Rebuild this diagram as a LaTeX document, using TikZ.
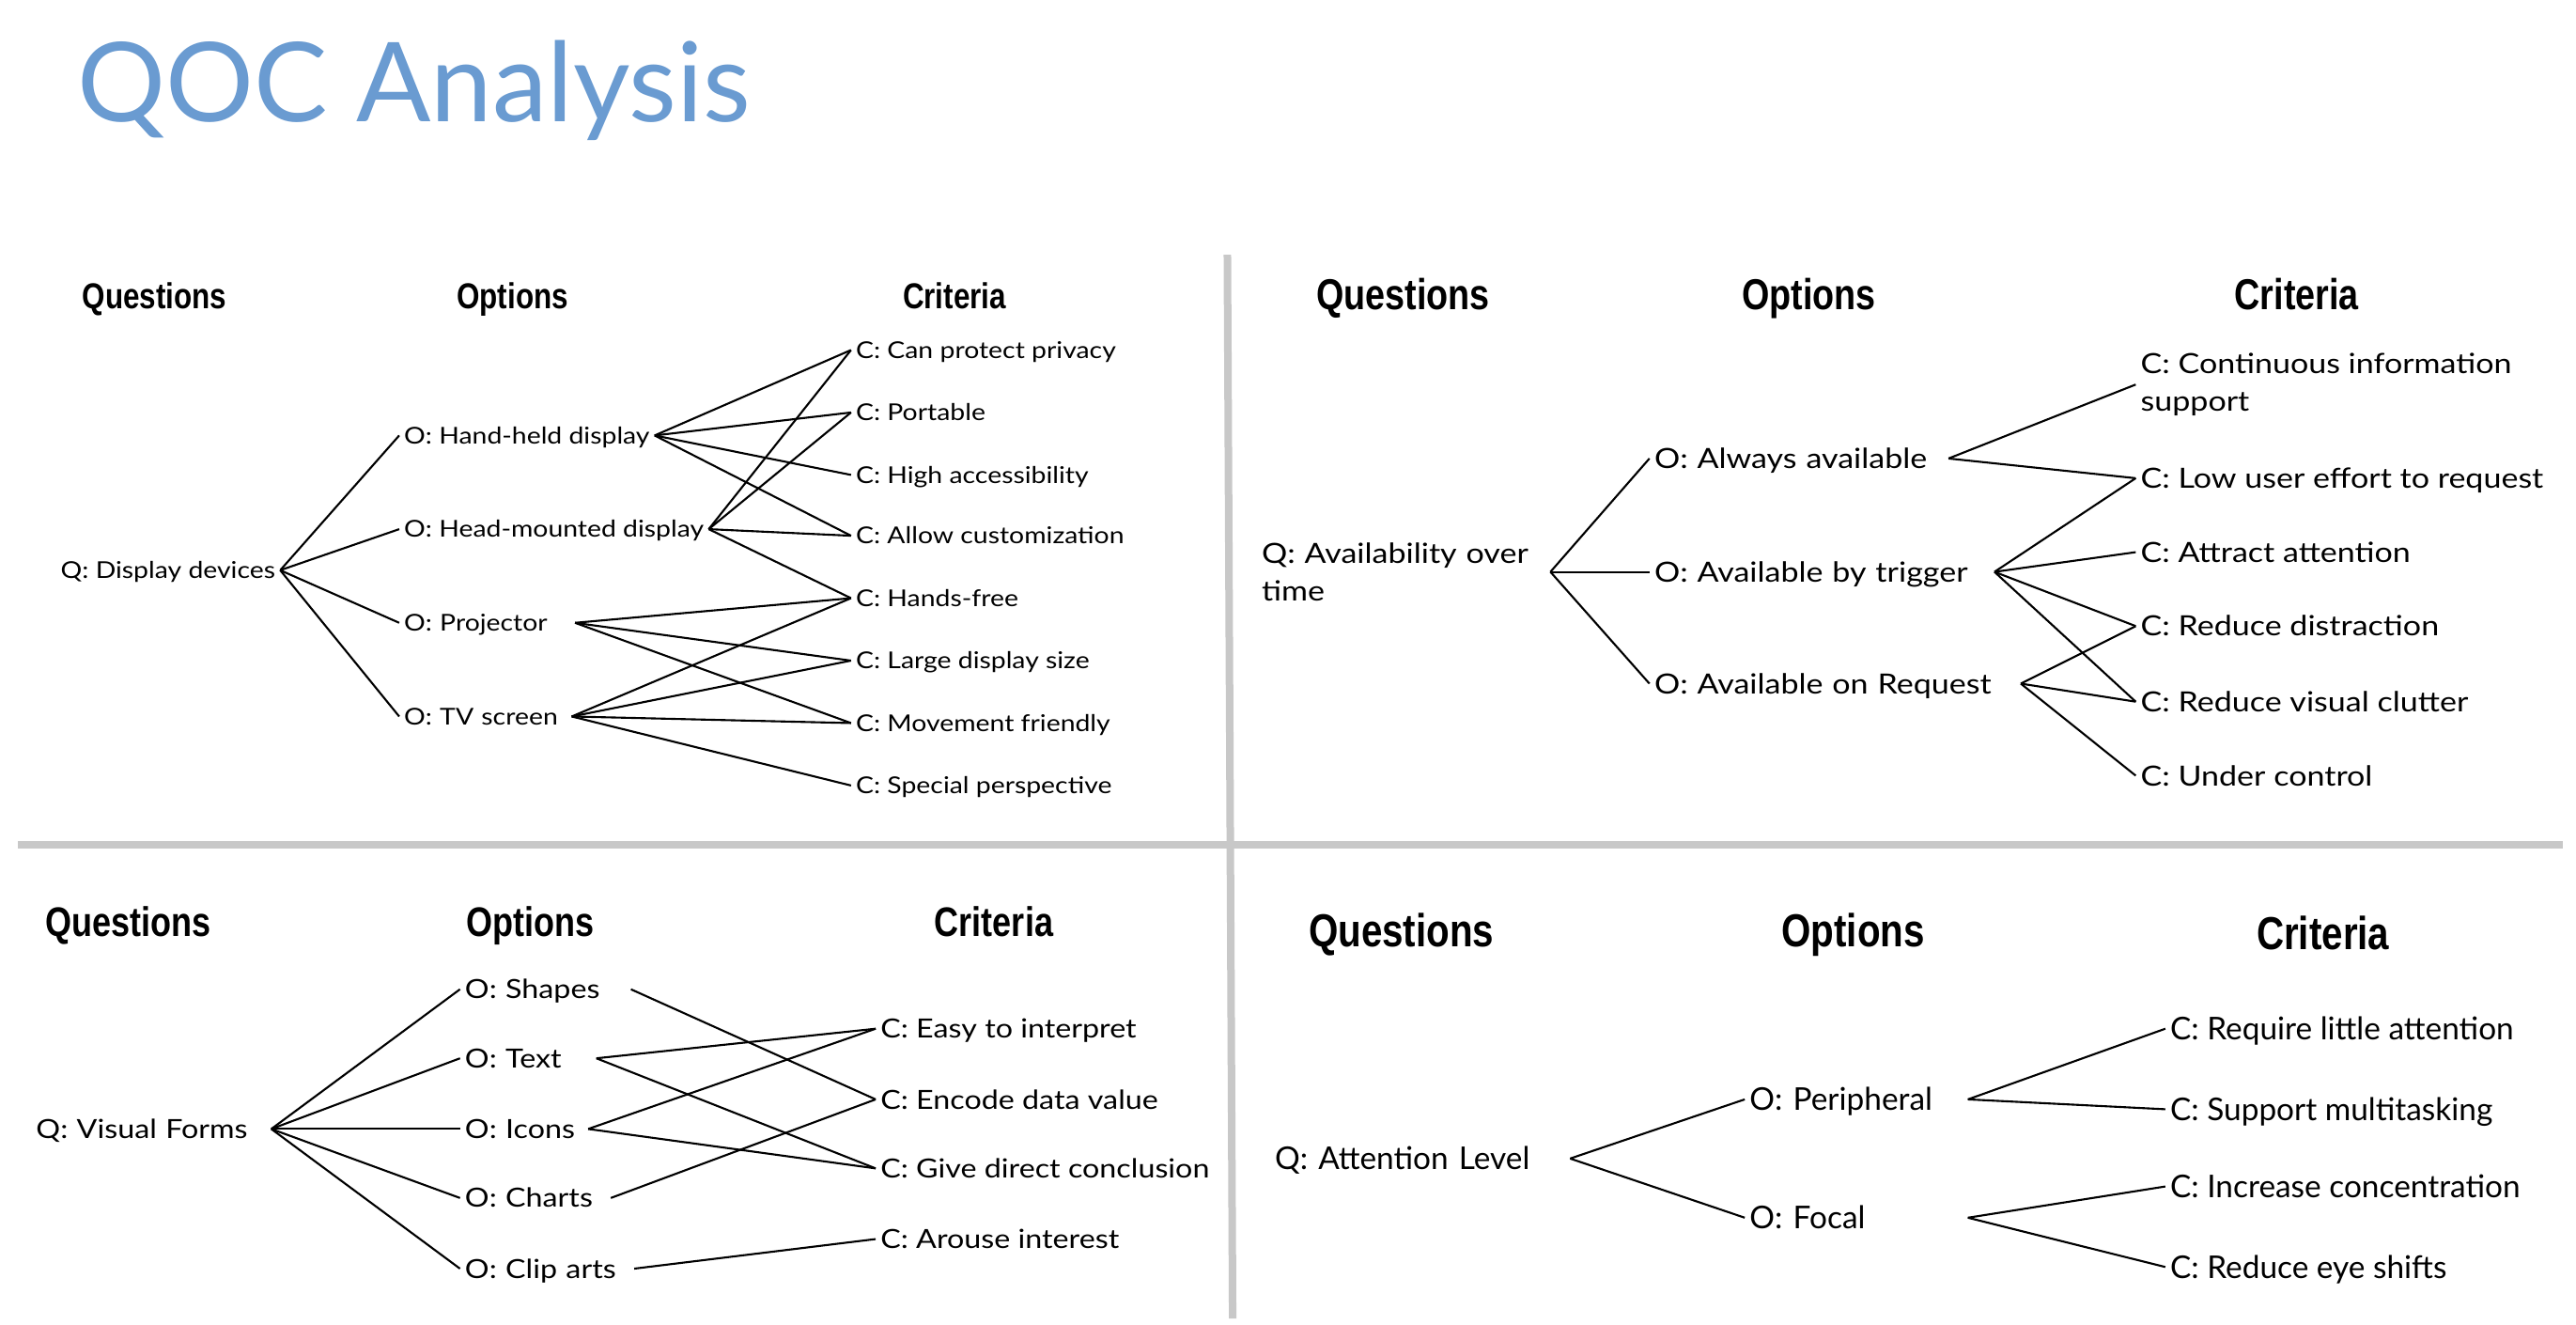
\documentclass[tikz,border=0pt]{standalone}
\usepackage{fontspec}
\setmainfont{Lato}
\newfontfamily\bodyfont[FakeStretch=1.15]{Lato}
\newfontfamily\headfont[FakeStretch=0.82]{Liberation Sans}
\definecolor{titleblue}{RGB}{106,155,209}
\definecolor{divider}{RGB}{200,200,200}

\begin{document}
\begin{tikzpicture}[
   x=0.17487mm, y=-0.17487mm,
   hdr/.style={inner sep=0pt, text depth=0pt},
   txt/.style={anchor=west, inner sep=0pt, outer sep=1.5pt, text depth=0pt},
   twoline/.style={anchor=west, inner sep=0pt, outer sep=1.5pt, align=left},
   link/.style={line width=0.6pt}
]
\fill[white] (0,0) rectangle (1568,806);
\useasboundingbox (0,0) rectangle (1568,806);

% title and dividers
\node[anchor=base west, inner sep=0pt, text=titleblue,
   font=\fontsize{33.4}{40}\selectfont] (title) at (47,74) {QOC Analysis};
\draw[divider, line width=0.8mm] (747.1,155) -- (750.3,802.3);
\draw[divider, line width=0.8mm] (10.9,513.8) -- (1560,513.8);

% column headers
\foreach \x/\y/\fs/\h/\t [count=\i] in {
   94/180/10.9/2.76mm/Questions, 312/180/10.9/2.76mm/Options, 581/180/10.9/2.76mm/Criteria,
   854/179/13.1/3.3mm/Questions, 1101/179/13.1/3.3mm/Options, 1398/179/13.1/3.3mm/Criteria,
   78/561/12.5/3.15mm/Questions, 323/561/12.5/3.15mm/Options, 605/561/12.5/3.15mm/Criteria,
   853/566/14/3.53mm/Questions, 1128/566/14/3.53mm/Options, 1414/568/14/3.53mm/Criteria}
   \node[hdr, font=\fontsize{\fs}{\fs}\headfont\bfseries, text height=\h] (hdr\i) at (\x,\y) {\t};

% display devices
\begin{scope}[txt/.append style={font=\fontsize{7.02}{9}\bodyfont, text height=1.77mm}]
   \node[txt] (dq) at (34,347) {Q: Display devices};
   \node[txt] (dhand) at (243,265) {O: Hand-held display};
   \node[txt] (dhead) at (243,322) {O: Head-mounted display};
   \node[txt, text width=17.66mm, align=left] (dproj) at (243,379) {O: Projector};
   \node[txt, text width=17.31mm, align=left] (dtv) at (243,436) {O: TV screen};
   \foreach \n/\y/\t in {cpriv/213/Can protect privacy, cport/251/Portable,
      cacc/289/High accessibility, ccust/326/Allow customization, cfree/364/Hands-free,
      clarge/402/Large display size, cmove/440/Movement friendly, cpersp/478/Special perspective}
      \node[txt] (\n) at (518,\y) {C: \t};
\end{scope}
\foreach \o in {dhand,dhead,dproj,dtv}
   \draw[link] (dq.east) -- (\o.west);
\foreach \a/\b in {dhand/cpriv, dhand/cport, dhand/cacc, dhand/ccust,
   dhead/cpriv, dhead/cport, dhead/ccust, dhead/cfree,
   dproj/cfree, dproj/clarge, dproj/cmove,
   dtv/cfree, dtv/clarge, dtv/cmove, dtv/cpersp}
   \draw[link] (\a.east) -- (\b.west);

% availability over time
\begin{scope}[txt/.append style={font=\fontsize{8.42}{11}\bodyfont, text height=2.13mm},
   twoline/.append style={font=\fontsize{8.42}{11.2}\bodyfont}]
   \node[twoline, text width=30.2mm] (aq) at (765,348) {Q: Availability over\\time};
   \node[txt, text width=30.78mm, align=left] (aalways) at (1004,279) {O: Always available};
   \node[txt, text width=35.67mm, align=left] (atrig) at (1004,348) {O: Available by trigger};
   \node[txt, text width=38.47mm, align=left] (areq) at (1004,416) {O: Available on Request};
   \node[twoline] (ccont) at (1300,234) {C: Continuous information\\support};
   \foreach \n/\y/\t in {clow/291/Low user effort to request, cattr/336/Attract attention,
      cdist/381/Reduce distraction, cclut/427/Reduce visual clutter, cctrl/472/Under control}
      \node[txt] (\n) at (1300,\y) {C: \t};
\end{scope}
\foreach \o in {aalways,atrig,areq}
   \draw[link] (aq.east) -- (\o.west);
\foreach \a/\b in {aalways/ccont, aalways/clow,
   atrig/clow, atrig/cattr, atrig/cdist, atrig/cclut,
   areq/cdist, areq/cclut, areq/cctrl}
   \draw[link] (\a.east) -- (\b.west);

% visual forms
\begin{scope}[txt/.append style={font=\fontsize{7.98}{10}\bodyfont, text height=2.02mm}]
   \node[txt, text width=24.5mm, align=left] (vq) at (19,687) {Q: Visual Forms};
   \foreach \n/\y/\w/\t in {vshape/602/17.14mm/Shapes, vtext/644/13.46mm/Text,
      vicon/687/12.59mm/Icons, vchart/729/15mm/Charts, vclip/772/17.49mm/Clip arts}
      \node[txt, text width=\w, align=left] (\n) at (280,\y) {O: \t};
   \foreach \n/\y/\t in {ceasy/626/Easy to interpret, cencode/669/Encode data value,
      cgive/711/Give direct conclusion, carouse/754/Arouse interest}
      \node[txt] (\n) at (533,\y) {C: \t};
\end{scope}
\foreach \o in {vshape,vtext,vicon,vchart,vclip}
   \draw[link] (vq.east) -- (\o.west);
\foreach \a/\b in {vshape/cencode, vtext/ceasy, vtext/cgive,
   vicon/ceasy, vicon/cgive, vchart/cencode, vclip/carouse}
   \draw[link] (\a.east) -- (\b.west);

% attention level
\begin{scope}[txt/.append style={font=\fontsize{9.5}{12}\selectfont, text height=2.4mm}]
   \node[txt, text width=30.9mm, align=left] (lq) at (773,705) {Q: Attention Level};
   \node[txt, text width=22.7mm, align=left] (lperi) at (1062,669) {O: Peripheral};
   \node[txt, text width=22.7mm, align=left] (lfocal) at (1062,741) {O: Focal};
   \foreach \n/\y/\t in {clittle/626/Require little attention, cmulti/675/Support multitasking,
      cconc/722/Increase concentration, ceye/771/Reduce eye shifts}
      \node[txt] (\n) at (1318,\y) {C: \t};
\end{scope}
\foreach \o in {lperi,lfocal}
   \draw[link] (lq.east) -- (\o.west);
\foreach \a/\b in {lperi/clittle, lperi/cmulti, lfocal/cconc, lfocal/ceye}
   \draw[link] (\a.east) -- (\b.west);
\end{tikzpicture}
\end{document}
